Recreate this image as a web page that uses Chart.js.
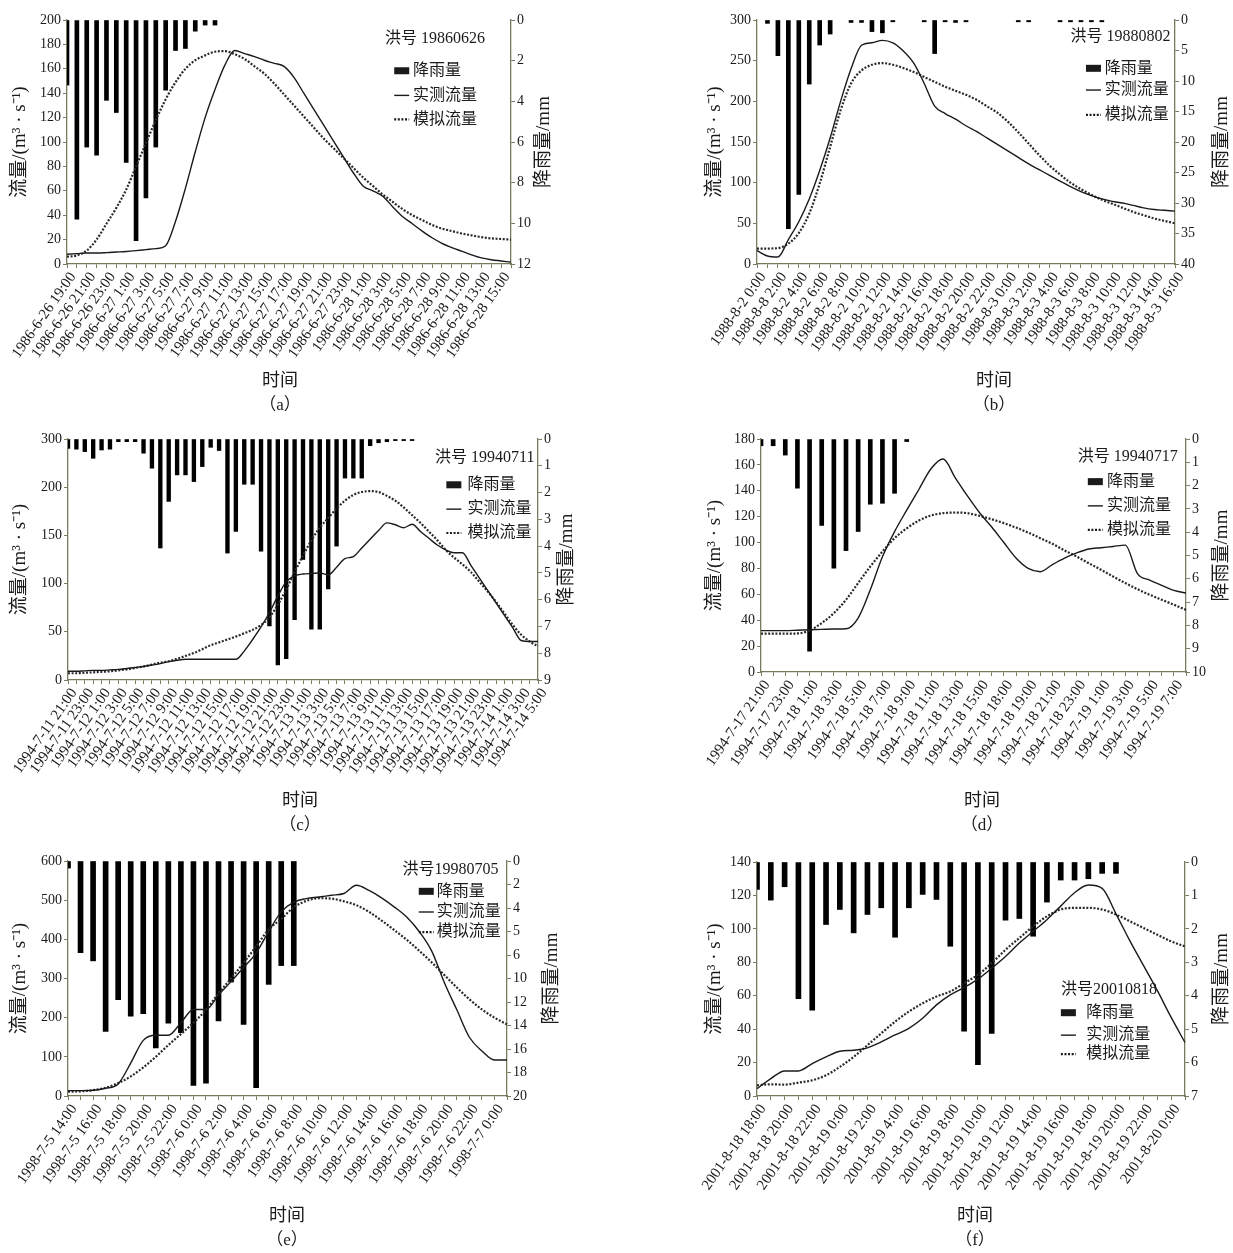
<!DOCTYPE html>
<html>
<head>
<meta charset="utf-8">
<script src="https://cdn.jsdelivr.net/npm/chart.js@4/dist/chart.umd.min.js"></script>
<style>
  body { margin: 0; background: #fff; }
  #wrap { position: relative; width: 1233px; height: 1253px; overflow: hidden; }
  canvas { position: absolute; }
</style>
</head>
<body>
<div id="wrap">
  <canvas id="a" width="616" height="420" style="left:0px;top:0px"></canvas>
  <canvas id="b" width="543" height="420" style="left:690px;top:0px"></canvas>
  <canvas id="c" width="616" height="420" style="left:0px;top:420px"></canvas>
  <canvas id="d" width="543" height="420" style="left:690px;top:420px"></canvas>
  <canvas id="e" width="616" height="413" style="left:0px;top:840px"></canvas>
  <canvas id="f" width="543" height="413" style="left:690px;top:840px"></canvas>
</div>
<script>
'use strict';

// (a) 洪号19860626, hourly
const ticksA = ['1986-6-26 19:00', '1986-6-26 21:00', '1986-6-26 23:00', '1986-6-27 1:00', '1986-6-27 3:00', '1986-6-27 5:00', '1986-6-27 7:00', '1986-6-27 9:00', '1986-6-27 11:00', '1986-6-27 13:00', '1986-6-27 15:00', '1986-6-27 17:00', '1986-6-27 19:00', '1986-6-27 21:00', '1986-6-27 23:00', '1986-6-28 1:00', '1986-6-28 3:00', '1986-6-28 5:00', '1986-6-28 7:00', '1986-6-28 9:00', '1986-6-28 11:00', '1986-6-28 13:00', '1986-6-28 15:00'];
const rainA = [3.2, 9.8, 6.25, 6.65, 3.95, 4.55, 7.0, 10.85, 8.75, 6.25, 3.45, 1.5, 1.4, 0.55, 0.25, 0.25, 0, 0, 0, 0, 0, 0, 0, 0, 0, 0, 0, 0, 0, 0, 0, 0, 0, 0, 0, 0, 0, 0, 0, 0, 0, 0, 0, 0, 0, 0];
const obsA = [8, 8.5, 9, 9, 9.3, 9.8, 10.3, 11, 11.8, 12.6, 15, 35, 62, 92, 120, 143, 163, 175, 172.5, 170, 167, 164.5, 162, 153, 140, 127, 114, 101, 88, 75, 64, 60, 55.5, 47, 39, 33, 27, 21.5, 17, 13.5, 10.5, 7.5, 5, 3.5, 2.5, 1.5];
const simA = [6, 7, 11, 20, 33, 46, 61, 80, 99, 118, 135, 149, 160, 167, 171, 174, 174.5, 172, 168, 162, 156, 148, 139, 130, 121, 112, 103, 95, 87, 79, 71, 64, 57, 51, 45, 40, 36, 32, 29, 27, 25, 23.5, 22, 21, 20.5, 20];

// (b) 洪号19880802
const ticksB = ['1988-8-2 0:00', '1988-8-8 2:00', '1988-8-2 4:00', '1988-8-2 6:00', '1988-8-2 8:00', '1988-8-2 10:00', '1988-8-2 12:00', '1988-8-2 14:00', '1988-8-2 16:00', '1988-8-2 18:00', '1988-8-2 20:00', '1988-8-2 22:00', '1988-8-3 0:00', '1988-8-3 2:00', '1988-8-3 4:00', '1988-8-3 6:00', '1988-8-3 8:00', '1988-8-3 10:00', '1988-8-3 12:00', '1988-8-3 14:00', '1988-8-3 16:00'];
const rainB = [0, 0.55, 5.85, 34.2, 28.6, 10.5, 4.1, 2.3, 0, 0.4, 0.4, 1.9, 2.1, 0.3, 0, 0, 0.3, 5.5, 0.3, 0.4, 0.3, 0, 0, 0, 0, 0.3, 0.3, 0, 0, 0.3, 0.3, 0.3, 0.3, 0.3, 0, 0, 0, 0, 0, 0, 0];
const obsB = [16.4, 9.8, 8.6, 30, 52, 80, 115, 155, 200, 240, 269, 272, 275, 272, 262, 247, 222, 194, 185, 178, 170, 163, 155, 147, 139, 131, 123, 116, 109, 102, 95, 89, 84, 80, 77, 75, 72, 69, 67, 66, 65];
const simB = [19, 19, 19.5, 25, 38, 62, 99, 144, 189, 222, 238, 245, 247, 245, 241, 236, 230, 224, 218, 213, 208, 202, 194, 186, 175, 162, 148, 134, 121, 110, 100, 92, 85, 79, 74, 69, 64, 60, 56, 53, 50];

// (c) 洪号19940711
const ticksC = ['1994-7-11 21:00', '1994-7-11 23:00', '1994-7-12 1:00', '1994-7-12 3:00', '1994-7-12 5:00', '1994-7-12 7:00', '1994-7-12 9:00', '1994-7-12 11:00', '1994-7-12 13:00', '1994-7-12 15:00', '1994-7-12 17:00', '1994-7-12 19:00', '1994-7-12 21:00', '1994-7-12 23:00', '1994-7-13 1:00', '1994-7-13 3:00', '1994-7-13 5:00', '1994-7-13 7:00', '1994-7-13 9:00', '1994-7-13 11:00', '1994-7-13 13:00', '1994-7-13 15:00', '1994-7-13 17:00', '1994-7-13 19:00', '1994-7-13 21:00', '1994-7-13 23:00', '1994-7-14 1:00', '1994-7-14 3:00', '1994-7-14 5:00'];
const rainC = [0.35, 0.38, 0.47, 0.72, 0.41, 0.38, 0.1, 0.1, 0.1, 0.53, 1.09, 4.07, 2.33, 1.34, 1.34, 1.59, 1.03, 0.31, 0.43, 4.26, 3.45, 1.69, 1.69, 4.19, 6.98, 8.44, 8.2, 6.75, 4.5, 7.1, 7.1, 5.6, 4.0, 1.46, 1.46, 1.46, 0.25, 0.14, 0.1, 0.06, 0.06, 0.06, 0, 0, 0, 0, 0, 0, 0, 0, 0, 0, 0, 0, 0, 0, 0];
const obsC = [9, 9, 9.5, 10, 10, 10.5, 11, 12, 13, 14, 15.5, 17, 19, 20.5, 21.5, 21.5, 21.5, 21.5, 21.5, 21.5, 21.5, 30, 42, 55, 70, 87, 102, 108, 110, 110.5, 111, 109, 117, 126, 128, 137, 146, 155, 163, 161, 158, 161.5, 154, 147, 140, 135, 132, 132, 119, 106, 93, 80, 67, 54, 41, 40, 40];
const simC = [7, 7, 7.5, 8, 8.5, 9, 10, 11, 12.5, 14, 16, 18, 19.5, 22, 25, 28, 32, 36, 39, 42, 45, 48.5, 52, 57, 65, 78, 94, 112, 129, 145, 158, 168, 178, 186, 192, 195, 196, 195, 191, 186, 179, 171, 163, 154, 145, 135, 127, 120, 112, 102, 92, 81, 69, 57, 47, 40, 35];
const flowTicksC = ['0', '50', '100', '150', '200', '300'];

// (d) 洪号19940717
const ticksD = ['1994-7-17 21:00', '1994-7-17 23:00', '1994-7-18 1:00', '1994-7-18 3:00', '1994-7-18 5:00', '1994-7-18 7:00', '1994-7-18 9:00', '1994-7-18 11:00', '1994-7-18 13:00', '1994-7-18 15:00', '1994-7-18 18:00', '1994-7-18 19:00', '1994-7-18 21:00', '1994-7-18 23:00', '1994-7-19 1:00', '1994-7-19 3:00', '1994-7-19 5:00', '1994-7-19 7:00'];
const rainD = [0.29, 0.29, 0.69, 2.11, 9.11, 3.71, 5.54, 4.79, 3.97, 2.8, 2.76, 2.33, 0.11, 0, 0, 0, 0, 0, 0, 0, 0, 0, 0, 0, 0, 0, 0, 0, 0, 0, 0, 0, 0, 0, 0, 0];
const obsD = [32, 32, 32, 32.3, 32.6, 32.9, 33.2, 33.4, 41.7, 63.5, 89, 108.5, 125, 141, 157, 164.5, 150, 136, 123, 112, 100, 88, 80, 77.5, 83, 88, 92, 95, 96, 97, 98, 76, 71, 67, 63, 61];
const simD = [29.6, 29.6, 29.6, 29.8, 32, 37.8, 45.5, 55.8, 68.7, 81.5, 93, 103.4, 111, 117, 120.9, 122.7, 123.2, 122.7, 120.6, 118, 115, 111.6, 107.7, 103.4, 99, 93.9, 89.2, 84, 79, 73.8, 68.7, 64, 59.7, 55.8, 52, 48];

// (e) 洪号19980705
const ticksE = ['1998-7-5 14:00', '1998-7-5 16:00', '1998-7-5 18:00', '1998-7-5 20:00', '1998-7-5 22:00', '1998-7-6 0:00', '1998-7-6 2:00', '1998-7-6 4:00', '1998-7-6 6:00', '1998-7-6 8:00', '1998-7-6 10:00', '1998-7-6 12:00', '1998-7-6 14:00', '1998-7-6 16:00', '1998-7-6 18:00', '1998-7-6 20:00', '1998-7-6 22:00', '1998-7-7 0:00'];
const rainE = [0.6, 7.8, 8.5, 14.5, 11.8, 13.2, 13.0, 15.9, 13.8, 14.6, 19.1, 18.9, 13.6, 10.3, 13.9, 19.3, 10.5, 8.9, 8.9, 0, 0, 0, 0, 0, 0, 0, 0, 0, 0, 0, 0, 0, 0, 0, 0, 0];
const obsE = [13.7, 13.7, 14.6, 19.7, 30.9, 84, 142, 155, 155, 187, 221, 221, 258, 292, 328, 365, 420, 470, 495, 504, 508, 512.6, 517, 538, 525, 506, 483, 457, 420, 370, 290, 220, 150, 115, 92, 92];
const simE = [11, 12, 15, 21, 33, 50, 73, 100, 130, 158, 187, 220, 262, 300, 340, 382, 425, 452, 482, 498, 505, 504, 497, 487, 470, 448, 424, 399, 371, 341, 309, 277, 247, 221, 200, 183];
const rainTicksE = ['0', '2', '4', '5', '6', '10', '12', '14', '16', '18', '20'];

// (f) 洪号20010818
const ticksF = ['2001-8-18 18:00', '2001-8-18 20:00', '2001-8-18 22:00', '2001-8-19 0:00', '2001-8-19 2:00', '2001-8-19 4:00', '2001-8-19 6:00', '2001-8-19 8:00', '2001-8-19 10:00', '2001-8-19 12:00', '2001-8-19 14:00', '2001-8-19 16:00', '2001-8-19 18:00', '2001-8-19 20:00', '2001-8-19 22:00', '2001-8-20 0:00'];
const rainF = [0.82, 1.14, 0.74, 4.09, 4.43, 1.87, 1.42, 2.12, 1.57, 1.37, 2.25, 1.37, 0.97, 1.12, 2.52, 5.06, 6.06, 5.13, 1.74, 1.69, 2.22, 1.2, 0.54, 0.54, 0.5, 0.34, 0.34, 0, 0, 0, 0, 0];
const obsF = [4.4, 10.4, 15, 15, 19.4, 23.4, 26.8, 27.4, 28.8, 32.4, 36.5, 40.5, 46.5, 54.5, 60.5, 64.9, 69.9, 76.5, 83.5, 91.5, 98.5, 105.5, 113.6, 121.6, 126.2, 124.2, 109, 93, 78, 63, 47, 32];
const simF = [6.4, 7, 6.8, 8, 9.4, 12.4, 17.4, 23.4, 30.4, 37.5, 44.5, 50.5, 55.5, 59.5, 62.5, 67.5, 72.5, 79.5, 87.5, 94.5, 101.5, 107.5, 111.6, 112.6, 112.6, 111.6, 108.6, 104.6, 100.5, 96.5, 92.5, 89.5];

const AXIS = '#7a7a5e';
const INK = '#1a1a1a';
const SERIF = "'Liberation Serif', 'Noto Sans CJK SC', serif";

// every other hour gets a label, the rest only a tick mark
function hourly(ticks, n) {
  const out = [];
  for (let i = 0; i < n; i++) {
    out.push(i % 2 === 0 && ticks[i / 2] !== undefined ? ticks[i / 2] : '');
  }
  return out;
}

// legend box, flood number, right axis title and captions
const floodLegend = {
  id: 'floodLegend',
  afterDatasetsDraw(chart, args, o) {
    const ctx = chart.ctx;
    const a = chart.chartArea;
    const w = a.right - a.left, h = a.bottom - a.top;
    ctx.save();
    ctx.fillStyle = INK;
    ctx.strokeStyle = INK;
    ctx.textBaseline = 'middle';
    ctx.textAlign = 'left';
    ctx.font = '16px ' + SERIF;
    ctx.fillText(o.id, a.left + o.idX * w, a.top + o.idY * h);

    const sx = a.left + o.symX * w;
    const tx = a.left + o.textX * w;
    const items = [chart.data.datasets[2], chart.data.datasets[0], chart.data.datasets[1]];
    items.forEach((ds, k) => {
      const y = a.top + o.rows[k] * h;
      if (ds.type === 'bar') {
        ctx.fillRect(sx, y - 3.5, 15, 7);
      } else {
        ctx.beginPath();
        ctx.lineWidth = ds.borderWidth;
        ctx.setLineDash(ds.borderDash || []);
        ctx.moveTo(sx, y);
        ctx.lineTo(sx + 15, y);
        ctx.stroke();
        ctx.setLineDash([]);
      }
      ctx.fillText(ds.label, tx, y);
    });

    ctx.textAlign = 'center';
    ctx.font = '18px ' + SERIF;
    ctx.fillText('时间', o.capX, o.capY);
    ctx.font = '17px ' + SERIF;
    ctx.fillText(o.tag, o.capX, o.capY + 25);

    // right axis title reads bottom to top
    ctx.translate(a.right + o.rTitle, (a.top + a.bottom) / 2);
    ctx.rotate(-Math.PI / 2);
    ctx.font = '19px ' + SERIF;
    ctx.fillText('降雨量/mm', 0, 0);
    ctx.restore();
  }
};

function makeChart(id, p) {
  const tickFont = { family: SERIF, size: 14 };
  return new Chart(document.getElementById(id), {
    data: {
      labels: hourly(p.ticks, p.rain.length),
      datasets: [
        { type: 'line', label: '实测流量', data: p.obs, yAxisID: 'y', borderColor: INK, borderWidth: 1.4,
          pointRadius: 0, cubicInterpolationMode: 'monotone', order: 1 },
        { type: 'line', label: '模拟流量', data: p.sim, yAxisID: 'y', borderColor: '#2a2a2a', borderWidth: 2.2,
          borderDash: [2, 1.6], pointRadius: 0, cubicInterpolationMode: 'monotone', order: 2 },
        { type: 'bar', label: '降雨量', data: p.rain.map(v => v === 0 ? null : v), yAxisID: 'y2',
          backgroundColor: '#000', barThickness: p.barW, clip: 0, order: 3 }
      ]
    },
    options: {
      responsive: false,
      animation: false,
      layout: { padding: { top: p.padTop, bottom: 0, left: 0, right: 0 } },
      plugins: { legend: { display: false }, tooltip: { enabled: false }, floodLegend: p.legend },
      scales: {
        x: {
          type: 'category',
          offset: false,
          grid: { offset: false, drawOnChartArea: false, drawTicks: true, tickLength: 4, color: AXIS, lineWidth: 1 },
          border: { color: AXIS, width: 1.3 },
          ticks: { autoSkip: false, minRotation: 55, maxRotation: 55, padding: 1, labelOffset: 6,
                   color: INK, font: { family: SERIF, size: 15 } },
          afterFit: s => { s.height = p.xH; s.paddingLeft = 0; s.paddingRight = 0; }
        },
        y: {
          position: 'left',
          min: 0, max: p.yMax,
          grid: { drawOnChartArea: false, tickLength: 4, color: AXIS },
          border: { color: AXIS, width: 1.3 },
          ticks: { stepSize: p.yStep, padding: 2, color: INK, font: tickFont,
                   callback: v => p.yLabels ? p.yLabels[Math.round(v / p.yStep)] : v },
          title: { display: true, text: '流量/(m³ · s⁻¹)', color: INK, padding: { top: p.tPad, bottom: 0 },
                   font: { family: SERIF, size: 19 } },
          afterFit: s => { s.width = p.leftW; s.paddingTop = 0; s.paddingBottom = 0; }
        },
        y2: {
          position: 'right',
          reverse: true,
          min: 0, max: p.rMax,
          grid: { drawOnChartArea: false, tickLength: 4, color: AXIS },
          border: { color: AXIS, width: 1.3 },
          ticks: { stepSize: p.rStep, padding: 2, color: INK, font: tickFont,
                   callback: v => p.rLabels ? p.rLabels[Math.round(v / p.rStep)] : v },
          afterFit: s => { s.width = p.rightW; s.paddingTop = 0; s.paddingBottom = 0; }
        }
      }
    },
    plugins: [floodLegend]
  });
}

makeChart('a', {
  ticks: ticksA, rain: rainA, obs: obsA, sim: simA,
  yMax: 200, yStep: 20, rMax: 12, rStep: 2, barW: 4,
  leftW: 67, rightW: 105, padTop: 20, xH: 156, tPad: 9,
  legend: { id: '洪号 19860626', idX: 0.716, idY: 0.075, symX: 0.737, textX: 0.779, rows: [0.208, 0.309, 0.407],
            rTitle: 33, tag: '（a）', capX: 280, capY: 381 }
});
makeChart('b', {
  ticks: ticksB, rain: rainB, obs: obsB, sim: simB,
  yMax: 300, yStep: 50, rMax: 40, rStep: 5, barW: 4,
  leftW: 67, rightW: 58, padTop: 20, xH: 156, tPad: 14,
  legend: { id: '洪号 19880802', idX: 0.750, idY: 0.068, symX: 0.787, textX: 0.832, rows: [0.198, 0.287, 0.389],
            rTitle: 47, tag: '（b）', capX: 304, capY: 381 }
});
makeChart('c', {
  ticks: ticksC, rain: rainC, obs: obsC, sim: simC,
  yMax: 250, yStep: 50, yLabels: flowTicksC, rMax: 9, rStep: 1, barW: 3.7,
  leftW: 68, rightW: 78, padTop: 19, xH: 160, tPad: 9,
  legend: { id: '洪号 19940711', idX: 0.781, idY: 0.08, symX: 0.805, textX: 0.850, rows: [0.19, 0.291, 0.39],
            rTitle: 29, tag: '（c）', capX: 300, capY: 381 }
});
makeChart('d', {
  ticks: ticksD, rain: rainD, obs: obsD, sim: simD,
  yMax: 180, yStep: 20, rMax: 10, rStep: 1, barW: 4,
  leftW: 71, rightW: 47, padTop: 19, xH: 168, tPad: 14,
  legend: { id: '洪号 19940717', idX: 0.745, idY: 0.076, symX: 0.769, textX: 0.814, rows: [0.183, 0.287, 0.39],
            rTitle: 36, tag: '（d）', capX: 292, capY: 381 }
});
makeChart('e', {
  ticks: ticksE, rain: rainE, obs: obsE, sim: simE,
  yMax: 600, yStep: 100, rMax: 20, rStep: 2, rLabels: rainTicksE, barW: 5,
  leftW: 68, rightW: 109, padTop: 21, xH: 157, tPad: 9,
  legend: { id: '洪号19980705', idX: 0.762, idY: 0.039, symX: 0.799, textX: 0.840, rows: [0.129, 0.217, 0.303],
            rTitle: 45, tag: '（e）', capX: 287, capY: 376 }
});
makeChart('f', {
  ticks: ticksF, rain: rainF, obs: obsF, sim: simF,
  yMax: 140, yStep: 20, rMax: 7, rStep: 1, barW: 5,
  leftW: 67, rightW: 48, padTop: 22, xH: 157, tPad: 14,
  legend: { id: '洪号20010818', idX: 0.710, idY: 0.547, symX: 0.710, textX: 0.769, rows: [0.644, 0.74, 0.821],
            rTitle: 37, tag: '（f）', capX: 285, capY: 376 }
});
</script>
</body>
</html>
